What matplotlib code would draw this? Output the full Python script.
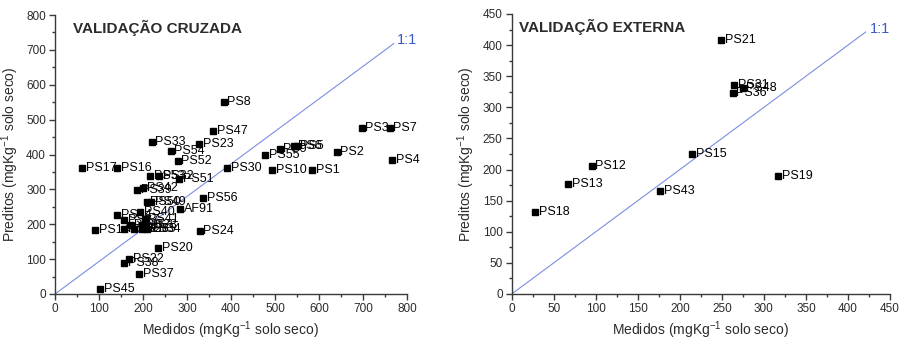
import matplotlib
matplotlib.use("Agg")
import matplotlib.pyplot as plt
from matplotlib.ticker import MultipleLocator

plt.rcParams["font.family"] = ["Liberation Sans", "DejaVu Sans"]
plt.rcParams["mathtext.fontset"] = "custom"
plt.rcParams["mathtext.rm"] = "Liberation Sans"
plt.rcParams["mathtext.it"] = "Liberation Sans"

# cross validation (left panel)
cv_names = ["PS8", "PS47", "PS33", "PS23", "PS54", "PS52", "PS30", "PS17", "PS16",
            "PS53", "PS32", "PS51", "PS39", "PS42", "PS50", "PS49", "AF91", "PS56",
            "PS44", "PS40", "PS27", "PS41", "PS25", "PS28", "PS14", "PS11", "PS26",
            "PS35", "PS34", "PS24", "PS20", "PS22", "PS38", "PS37", "PS45", "PS3",
            "PS7", "PS2", "PS4", "PS55", "PS9", "PS6", "PS5", "PS10", "PS1"]
cv_measured = [383, 360, 220, 328, 263, 279, 391, 62, 142,
               216, 237, 282, 187, 200, 208, 219, 285, 337,
               141, 193, 157, 204, 172, 198, 91, 157, 180,
               197, 208, 329, 235, 168, 157, 191, 103, 697,
               761, 640, 767, 478, 511, 543, 549, 494, 585]
cv_predicted = [551, 466, 436, 431, 411, 380, 361, 362, 361,
                338, 338, 330, 298, 304, 265, 265, 243, 275,
                227, 235, 211, 216, 199, 199, 184, 186, 187,
                187, 187, 182, 133, 101, 90, 57, 15, 476,
                476, 407, 385, 398, 417, 423, 423, 355, 355]
cv_line_x = [0, 770]
cv_line_y = [0, 718]

# external validation (right panel)
ev_names = ["PS21", "PS31", "PS48", "PS36", "PS15", "PS12", "PS13", "PS43", "PS18", "PS19"]
ev_measured = [249, 265, 275, 263, 215, 95, 67, 177, 28, 317]
ev_predicted = [409, 336, 331, 323, 225, 205, 176, 165, 131, 189]
ev_line_x = [0, 421]
ev_line_y = [0, 421]

AXIS_COLOR = "#3a3a3a"
TEXT_COLOR = "#2b2b2b"
LINE_COLOR = "#7d8ee0"
LINE_TEXT = "#3c57c8"
XLABEL = "Medidos (mgKg$^{-1}$ solo seco)"
YLABEL = "Preditos (mgKg$^{-1}$ solo seco)"


def style_ax(ax, lim, major, minor):
    for side in ("top", "right"):
        ax.spines[side].set_visible(False)
    for side in ("left", "bottom"):
        ax.spines[side].set_color(AXIS_COLOR)
        ax.spines[side].set_linewidth(1.0)
    ax.set_xlim(0, lim)
    ax.set_ylim(0, lim)
    ax.xaxis.set_major_locator(MultipleLocator(major))
    ax.yaxis.set_major_locator(MultipleLocator(major))
    ax.xaxis.set_minor_locator(MultipleLocator(minor))
    ax.yaxis.set_minor_locator(MultipleLocator(minor))
    ax.tick_params(which="major", direction="out", length=4.5, width=1.0,
                   color=AXIS_COLOR, labelsize=8.5, labelcolor=TEXT_COLOR, pad=2)
    ax.tick_params(which="minor", direction="out", length=2.5, width=1.0,
                   color=AXIS_COLOR)
    ax.set_xlabel(XLABEL, fontsize=10, color=TEXT_COLOR, labelpad=3)
    ax.set_ylabel(YLABEL, fontsize=10, color=TEXT_COLOR, labelpad=4)
    ax.patch.set_alpha(0)


def draw_panel(ax, names, xs, ys, line_x, line_y, title, lim, major, minor):
    ax.plot(line_x, line_y, color=LINE_COLOR, lw=0.8, zorder=1)
    ax.text(line_x[1] + lim * 0.01, line_y[1] + lim * 0.012, "1:1",
            color=LINE_TEXT, fontsize=10.5, ha="left", va="center")
    ax.plot(xs, ys, "s", color="black", ms=4.3, zorder=3, clip_on=False)
    for name, x, y in zip(names, xs, ys):
        ax.annotate(name, (x, y), xytext=(2.6, 0), textcoords="offset points",
                    fontsize=9, ha="left", va="center", color="black", zorder=4)
    ax.text(0.05 if lim > 500 else 0.02, 0.955, title, transform=ax.transAxes,
            fontsize=11, fontweight="bold", color=TEXT_COLOR, ha="left", va="center")
    style_ax(ax, lim, major, minor)


fig = plt.figure(figsize=(9.06, 3.41), dpi=100)
fig.patch.set_facecolor("white")

ax1 = fig.add_axes([55 / 906, 47 / 341, 352 / 906, 279 / 341])
draw_panel(ax1, cv_names, cv_measured, cv_predicted, cv_line_x, cv_line_y,
           "VALIDAÇÃO CRUZADA", 800, 100, 50)

ax2 = fig.add_axes([511.7 / 906, 47 / 341, 378.3 / 906, 280 / 341])
draw_panel(ax2, ev_names, ev_measured, ev_predicted, ev_line_x, ev_line_y,
           "VALIDAÇÃO EXTERNA", 450, 50, 25)

fig.savefig("out.png", dpi=100)
